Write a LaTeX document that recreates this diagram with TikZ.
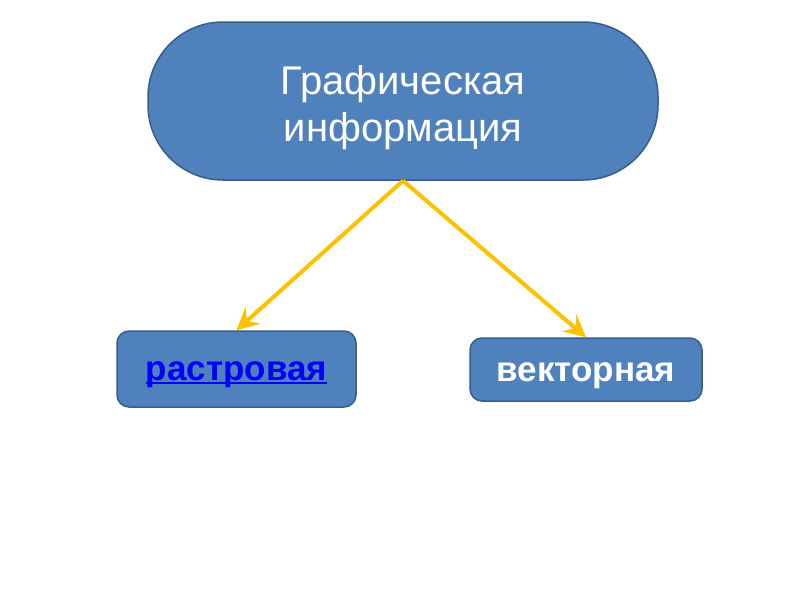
\documentclass[tikz,border=0pt]{standalone}
\usepackage{fontspec}
\setmainfont{Liberation Sans}
\usetikzlibrary{arrows.meta}
\definecolor{boxblue}{HTML}{4F81BD}
\definecolor{boxedge}{HTML}{385D8A}
\definecolor{linkblue}{HTML}{0000FF}
\definecolor{arrowgold}{HTML}{FFC000}
\newcommand\linkline[1]{\setbox0\hbox{#1}\rlap{\rule[-4pt]{\wd0}{2.5pt}}\box0}

\begin{document}
\begin{tikzpicture}[x=1pt, y=-1pt, line width=1.5pt,
  box/.style={draw=boxedge, fill=boxblue, text=white, inner sep=0pt},
  link/.style={draw=arrowgold, line width=4pt, -{Stealth[length=22pt, width=22pt, inset=8pt]}}]
\useasboundingbox (0, 0) rectangle (800, 600);
%Top
\node[box, rounded corners=75pt, minimum width=510pt, minimum height=158pt, align=center,
  font=\fontsize{40}{47}\selectfont] (graphic) at (403, 101) {\rule{0pt}{42pt}Графическая\\информация};
%Bottom
\node[box, rounded corners=12pt, minimum width=239pt, minimum height=76pt, text height=28pt, text depth=6pt,
  font=\fontsize{35}{40}\selectfont\bfseries, text=linkblue] (raster) at (236.5, 369) {\linkline{растровая}};
\node[box, rounded corners=12pt, minimum width=232pt, minimum height=63pt, text height=30pt, text depth=6pt,
  font=\fontsize{35}{40}\selectfont\bfseries] (vector) at (586, 369.5) {векторная};
%Arrows
\draw[link] (graphic.south) -- (raster.north);
\draw[link] (graphic.south) -- (vector.north);
\end{tikzpicture}
\end{document}
